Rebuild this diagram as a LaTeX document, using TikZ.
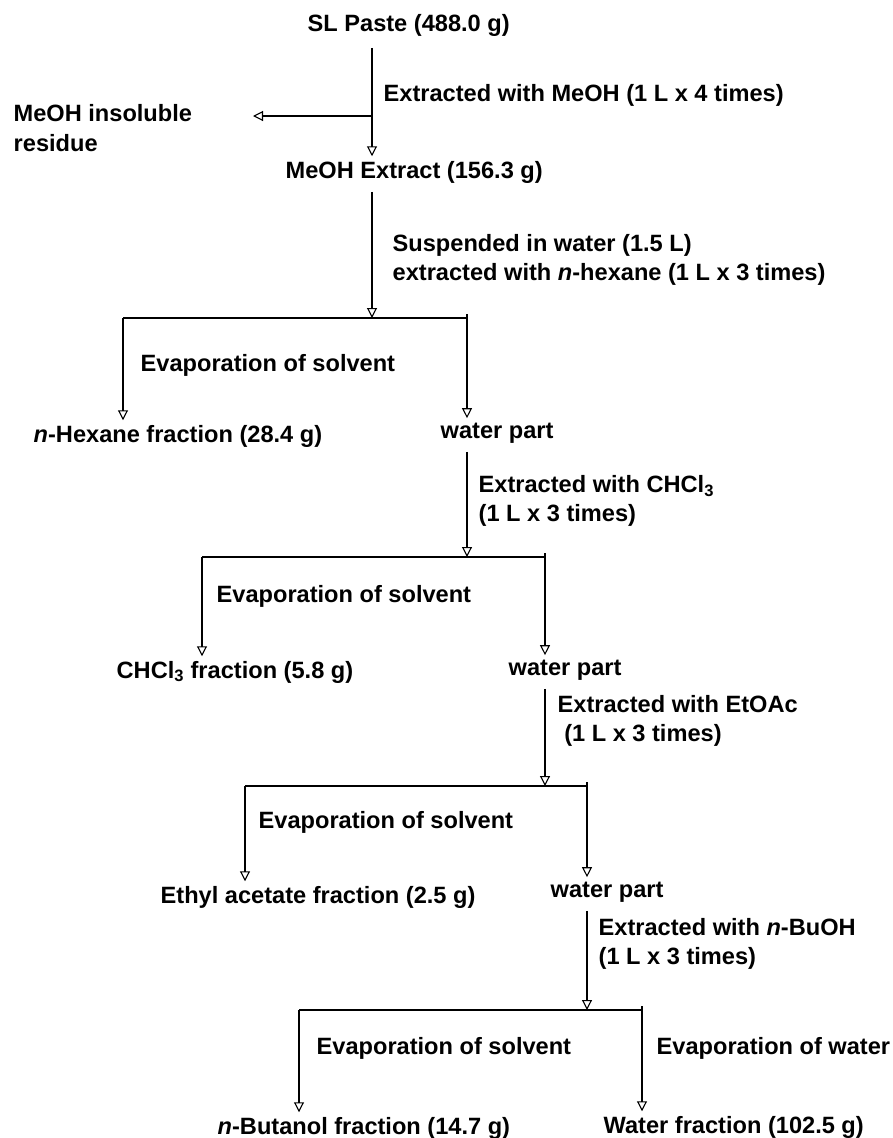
\documentclass[tikz,border=0pt]{standalone}
\usepackage{fontspec}
\setmainfont{Liberation Sans}
\usepackage{tikz}
\usetikzlibrary{arrows.meta, calc, positioning}

\begin{document}
\begin{tikzpicture}[x=1pt, y=-1pt, line width=1.4pt,
	txt/.style={anchor=west, inner sep=0pt, align=left, font=\fontsize{23.6}{29.5}\selectfont\bfseries},
	flow/.style={-{Triangle[open, length=10pt, width=10pt, line width=1.1pt]}}]
	\useasboundingbox (0,0) rectangle (892,1138);

	% methanol extraction
	\node [txt] (paste) at (307,25) {SL Paste (488.0 g)};
	\node [txt] (st1) at (383,95) {Extracted with MeOH (1 L x 4 times)};
	\node [txt] (insol) at (13,128) {MeOH insoluble\\residue};
	\node [txt] (mext) at (285,172) {MeOH Extract (156.3 g)};
	\coordinate (j1) at (372,116);
	\coordinate (r1) at (253,116);
	\draw [flow, shorten <=11pt, shorten >=4pt] (paste.south -| j1) -- (mext.north -| j1);
	\draw [flow] (j1) -- (r1);

	% n-hexane
	\node [txt] (st2) at (392,260) {Suspended in water (1.5 L)\\extracted with \textit{n}-hexane (1 L x 3 times)};
	\node [txt] (ev1) at (140,365) {Evaporation of solvent};
	\node [txt] (hexfr) at (33,436) {\textit{n}-Hexane fraction (28.4 g)};
	\node [txt] (wat1) at (440,433) {water part};
	\coordinate (j2) at (372,318);
	\coordinate (b2l) at (123,318);
	\coordinate (b2r) at (467,318);
	\draw [flow, shorten <=8pt] (mext.south -| j2) -- (j2);
	\draw (b2l) -- (b2r);
	\draw [flow, shorten >=4pt] (b2l) -- (b2l |- hexfr.north);
	\draw [flow, shorten >=4pt] ([yshift=4pt]b2r) -- (b2r |- wat1.north);

	% chloroform
	\node [txt] (st3) at (478,501) {Extracted with CHCl\textsubscript{3}\\(1 L x 3 times)};
	\node [txt] (ev2) at (216,596) {Evaporation of solvent};
	\node [txt] (chclfr) at (116,672) {CHCl\textsubscript{3} fraction (5.8 g)};
	\node [txt] (wat2) at (508,670) {water part};
	\coordinate (j3) at (467,557);
	\coordinate (b3l) at (202,557);
	\coordinate (b3r) at (545,557);
	\draw [flow, shorten <=8pt] (wat1.south -| j3) -- (j3);
	\draw (b3l) -- (b3r);
	\draw [flow, shorten >=4pt] (b3l) -- (b3l |- chclfr.north);
	\draw [flow, shorten >=4pt] ([yshift=4pt]b3r) -- (b3r |- wat2.north);

	% ethyl acetate
	\node [txt] (st4) at (557,721) {Extracted with EtOAc\\\ (1 L x 3 times)};
	\node [txt] (ev3) at (258,822) {Evaporation of solvent};
	\node [txt] (etfr) at (160,897) {Ethyl acetate fraction (2.5 g)};
	\node [txt] (wat3) at (550,892) {water part};
	\coordinate (j4) at (545,786);
	\coordinate (b4l) at (245,786);
	\coordinate (b4r) at (587,786);
	\draw [flow, shorten <=8pt] (wat2.south -| j4) -- (j4);
	\draw (b4l) -- (b4r);
	\draw [flow, shorten >=4pt] (b4l) -- (b4l |- etfr.north);
	\draw [flow, shorten >=4pt] ([yshift=4pt]b4r) -- (b4r |- wat3.north);

	% n-butanol
	\node [txt] (st5) at (598,944) {Extracted with \textit{n}-BuOH\\(1 L x 3 times)};
	\node [txt] (ev4) at (316,1048) {Evaporation of solvent};
	\node [txt] (evw) at (656,1048) {Evaporation of water};
	\node [txt] (bufr) at (217,1128) {\textit{n}-Butanol fraction (14.7 g)};
	\node [txt] (watfr) at (603,1127) {Water fraction (102.5 g)};
	\coordinate (j5) at (587,1010);
	\coordinate (b5l) at (299,1010);
	\coordinate (b5r) at (642,1010);
	\draw [flow, shorten <=8pt] (wat3.south -| j5) -- (j5);
	\draw (b5l) -- (b5r);
	\draw [flow, shorten >=4pt] (b5l) -- (b5l |- bufr.north);
	\draw [flow, shorten >=4pt] ([yshift=4pt]b5r) -- (b5r |- watfr.north);
\end{tikzpicture}
\end{document}
